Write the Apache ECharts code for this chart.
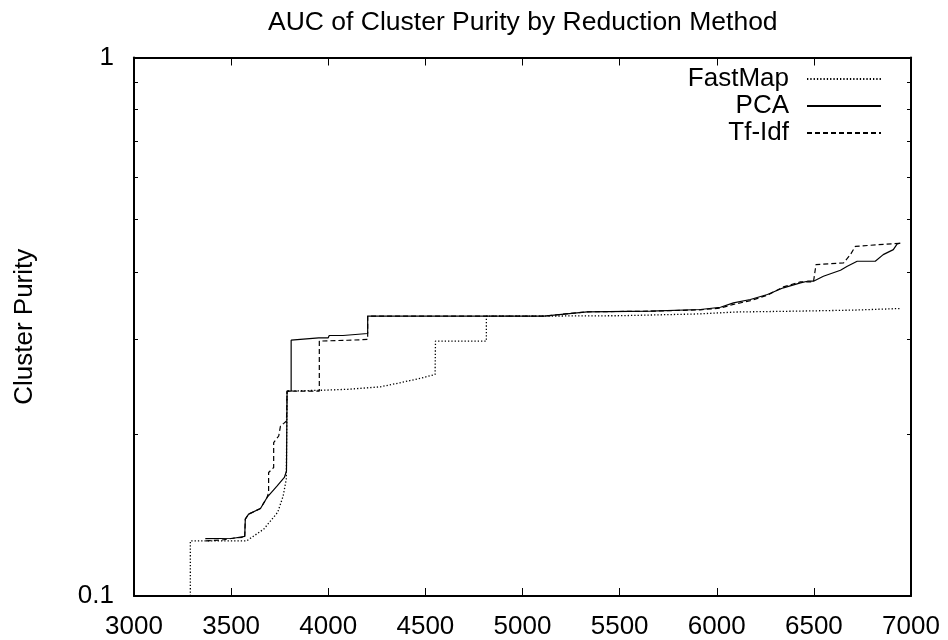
<!DOCTYPE html>
<html>
<head>
<meta charset="utf-8">
<script src="https://cdn.jsdelivr.net/npm/echarts@6/dist/echarts.min.js"></script>
<style>html,body{margin:0;padding:0;background:#fff}#c{width:948px;height:640px}</style>
</head>
<body>
<div id="c"></div>
<script>
const titleText = 'AUC of Cluster Purity by Reduction Method';
const yAxisName = 'Cluster Purity';
const seriesNames = ['FastMap', 'PCA', 'Tf-Idf'];
const xTicks = [3000, 3500, 4000, 4500, 5000, 5500, 6000, 6500, 7000];
const yTicks = [0.1, 0.2, 0.3, 0.4, 0.5, 0.6, 0.7, 0.8, 0.9, 1];
const yLabels = [0.1, 1];

const fastMapX = [3290, 3290, 3580, 3668, 3740, 3768, 3784, 3788, 3960, 4100, 4268, 4371, 4480, 4550, 4552, 4814, 4814, 5100, 5500, 5900, 6100, 6400, 6700, 6945];
const fastMapY = [0.100, 0.1266, 0.1266, 0.1331, 0.1431, 0.1534, 0.1648, 0.2402, 0.2410, 0.2420, 0.2446, 0.2489, 0.2540, 0.2579, 0.2974, 0.2974, 0.3309, 0.3310, 0.3315, 0.3340, 0.3368, 0.3380, 0.3395, 0.3419];

const pcaX = [3367, 3512, 3515, 3570, 3573, 3590, 3651, 3685, 3737, 3774, 3785, 3788, 3809, 3809, 3951, 4000, 4005, 4076, 4080, 4203, 4203, 5109, 5333, 5658, 5916, 6019, 6086, 6173, 6261, 6343, 6431, 6467, 6498, 6549, 6637, 6672, 6723, 6816, 6857, 6909, 6929, 6945];
const pcaY = [0.1278, 0.1280, 0.1287, 0.1290, 0.1389, 0.1419, 0.1454, 0.1524, 0.1601, 0.1660, 0.1707, 0.2402, 0.2402, 0.2986, 0.3016, 0.3016, 0.3046, 0.3046, 0.3072, 0.3072, 0.3309, 0.3309, 0.3371, 0.3380, 0.3404, 0.3437, 0.3503, 0.3553, 0.3630, 0.3735, 0.3816, 0.3842, 0.3842, 0.3925, 0.4026, 0.4096, 0.4184, 0.4184, 0.4305, 0.4398, 0.4507, 0.4520];

const tfidfX = [3370, 3450, 3520, 3570, 3573, 3590, 3651, 3685, 3693, 3693, 3719, 3719, 3745, 3754, 3771, 3785, 3788, 3954, 3954, 4100, 4203, 4203, 5109, 5333, 5658, 5916, 6019, 6086, 6173, 6261, 6343, 6431, 6498, 6511, 6653, 6687, 6714, 6945];
const tfidfY = [0.1266, 0.1270, 0.1282, 0.1285, 0.1389, 0.1419, 0.1454, 0.1524, 0.1557, 0.1696, 0.1732, 0.1927, 0.1982, 0.2068, 0.2092, 0.2113, 0.2402, 0.2402, 0.2974, 0.2985, 0.2995, 0.3309, 0.3309, 0.3371, 0.3380, 0.3400, 0.3425, 0.3480, 0.3535, 0.3620, 0.3750, 0.3832, 0.3832, 0.4126, 0.4155, 0.4300, 0.4460, 0.4520];

const zip = (xs, ys) => xs.map((x, i) => [x, ys[i]]);
const FONT = "'Liberation Sans', Arial, Helvetica, sans-serif";
const FS = 26;

const chart = echarts.init(document.getElementById('c'), null, {renderer: 'canvas'});

const xBase = {
  type: 'value', min: 3000, max: 7000, interval: 500,
  axisLine: {show: true, onZero: false, lineStyle: {color: '#000', width: 2}},
  axisTick: {show: true, inside: true, length: 8, lineStyle: {color: '#000', width: 1}},
  splitLine: {show: false}
};
const yBase = {
  type: 'log', logBase: 10, min: 0.1, max: 1,
  axisLine: {show: true, onZero: false, lineStyle: {color: '#000', width: 2}},
  axisTick: {show: true, inside: true, length: 4, customValues: yTicks, lineStyle: {color: '#000', width: 1}},
  splitLine: {show: false},
  minorTick: {show: false}
};

const lineSeries = (name, data, type, w) => ({
  name: name, type: 'line', data: data, symbol: 'none', showSymbol: false,
  xAxisIndex: 0, yAxisIndex: 0, animation: false, clip: true,
  color: '#000',
  itemStyle: {color: '#000'},
  lineStyle: {color: '#000', width: w, type: type}
});

chart.setOption({
  animation: false,
  backgroundColor: '#fff',
  color: ['#000', '#000', '#000'],
  title: {
    text: titleText, left: 263, top: 4,
    textStyle: {fontFamily: FONT, fontSize: FS + 0.5, fontWeight: 'normal', color: '#000'}
  },
  grid: {left: 134, right: 37, top: 57.5, bottom: 43, containLabel: false},
  legend: {
    orient: 'vertical', align: 'right', right: 66, top: 66, padding: 0,
    itemWidth: 74, itemHeight: 14, itemGap: 1,
    itemStyle: {opacity: 0},
    textStyle: {fontFamily: FONT, fontSize: FS, color: '#000', padding: [0, 13, 0, 0]},
    data: seriesNames
  },
  xAxis: [
    Object.assign({}, xBase, {position: 'bottom',
      axisLabel: {show: true, margin: 18, color: '#000', fontFamily: FONT, fontSize: FS, customValues: xTicks,
        formatter: v => String(v)}}),
    Object.assign({}, xBase, {position: 'top', axisLabel: {show: false}})
  ],
  yAxis: [
    Object.assign({}, yBase, {position: 'left',
      name: yAxisName, nameLocation: 'middle', nameRotate: 90, nameGap: 96,
      nameTextStyle: {fontFamily: FONT, fontSize: FS, color: '#000'},
      axisLabel: {show: true, margin: 20, color: '#000', fontFamily: FONT, fontSize: FS, customValues: yLabels,
        formatter: v => String(+v.toPrecision(3))}}),
    Object.assign({}, yBase, {position: 'right', axisLabel: {show: false}})
  ],
  series: [
    lineSeries(seriesNames[0], zip(fastMapX, fastMapY), [1.3, 2], 1.3),
    lineSeries(seriesNames[1], zip(pcaX, pcaY), 'solid', 1.2),
    lineSeries(seriesNames[2], zip(tfidfX, tfidfY), [5, 3], 1.2)
  ]
});
</script>
</body>
</html>
